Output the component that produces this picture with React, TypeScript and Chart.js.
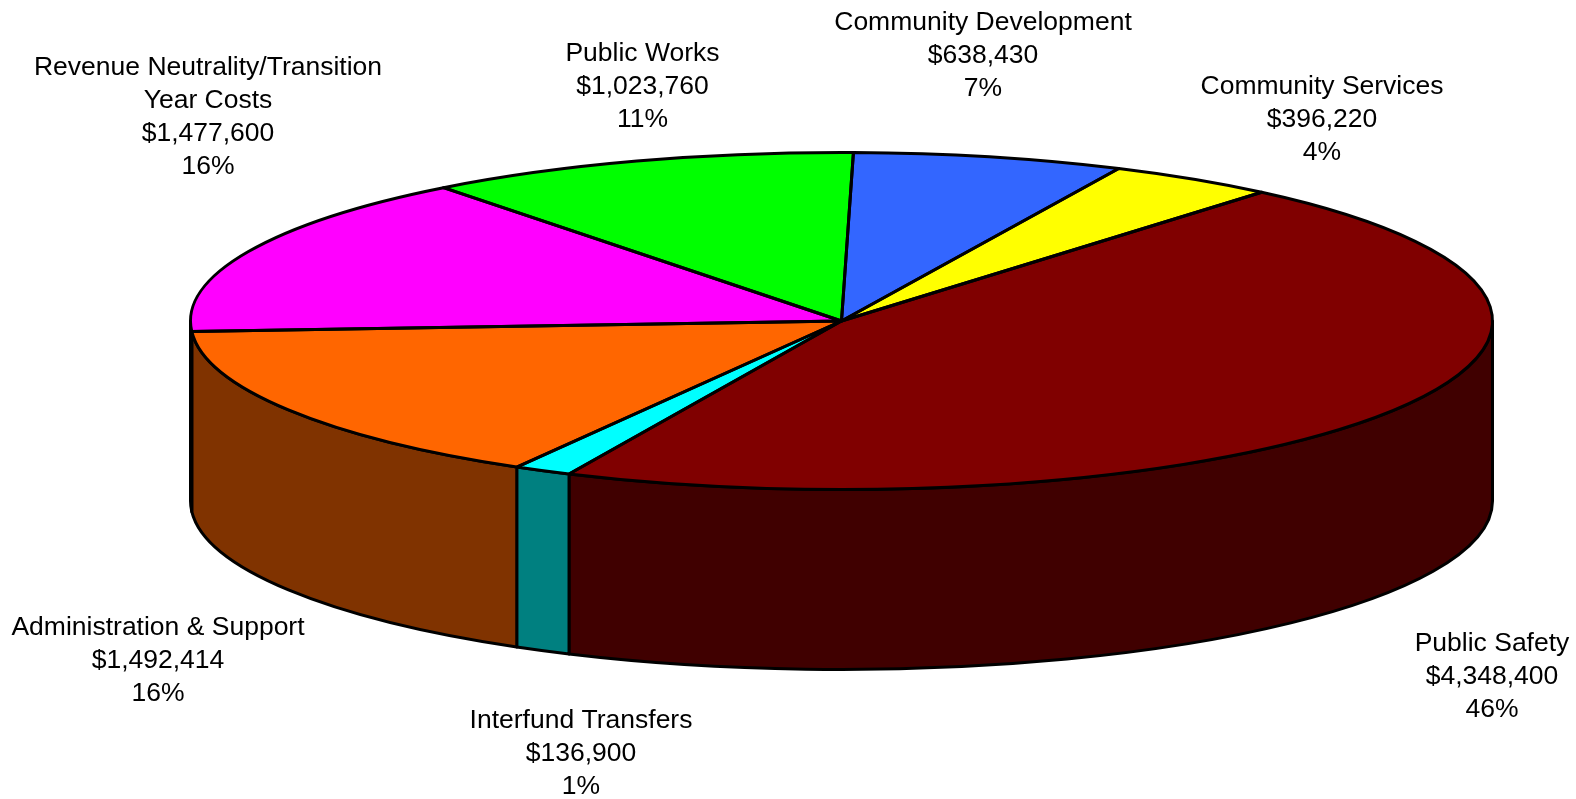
import React, { useEffect, useRef } from "react";
import { Chart, registerables } from "chart.js";

Chart.register(...registerables);

const categories = [
  "Public Safety",
  "Interfund Transfers",
  "Administration & Support",
  "Revenue Neutrality/Transition Year Costs",
  "Public Works",
  "Community Development",
  "Community Services",
];
const values = [4348400, 136900, 1492414, 1477600, 1023760, 638430, 396220];
const amountLabels = ["$4,348,400", "$136,900", "$1,492,414", "$1,477,600", "$1,023,760", "$638,430", "$396,220"];
const percentLabels = ["46%", "1%", "16%", "16%", "11%", "7%", "4%"];
const nameLines = [
  ["Public Safety"],
  ["Interfund Transfers"],
  ["Administration & Support"],
  ["Revenue Neutrality/Transition", "Year Costs"],
  ["Public Works"],
  ["Community Development"],
  ["Community Services"],
];
const topColors = ["#800000", "#00FFFF", "#FF6600", "#FF00FF", "#00FF00", "#3366FF", "#FFFF00"];
const sideColors = ["#400000", "#008080", "#803300", "#800080", "#008000", "#1A3380", "#808000"];

// layout of the pseudo-3D pie and its labels
const W = 1576;
const H = 799;
const CX = 841.5;
const CY = 321;
const RX = 651;
const SQUASH = 168.5 / 651;
const DEPTH = 180;
const LINE_W = 3;
const FONT = '26.5px "Liberation Sans", Arial, sans-serif';
const LINE_H = 33;
const labelAnchors = [
  [1492, 651],
  [581, 728],
  [158, 634.5],
  [208, 74.5],
  [642.5, 61],
  [983, 29.5],
  [1322, 94],
];

const pie3d = {
  id: "pie3d",
  beforeDatasetDraw(chart: any) {
    const ctx = chart.ctx;
    const arcs = chart.getDatasetMeta(0).data;
    const ref = arcs[0];
    const x = ref.x;
    const y = ref.y;
    const rx = ref.outerRadius;
    const ry = rx * SQUASH;
    ctx.save();
    ctx.lineWidth = LINE_W;
    ctx.strokeStyle = "#000";
    ctx.lineJoin = "round";
    arcs.forEach((arc: any, i: number) => {
      for (const k of [-2, 0, 2]) {
        const a = Math.max(arc.startAngle + k * Math.PI, 0);
        const b = Math.min(arc.endAngle + k * Math.PI, Math.PI);
        if (b <= a) continue;
        ctx.beginPath();
        ctx.ellipse(x, y, rx, ry, 0, a, b);
        ctx.lineTo(x + rx * Math.cos(b), y + ry * Math.sin(b) + DEPTH);
        ctx.ellipse(x, y + DEPTH, rx, ry, 0, b, a, true);
        ctx.closePath();
        ctx.fillStyle = sideColors[i];
        ctx.fill();
        ctx.stroke();
      }
    });
    ctx.restore();
    ctx.save();
    ctx.translate(x, y);
    ctx.scale(1, SQUASH);
    ctx.translate(-x, -y);
  },
  afterDatasetDraw(chart: any) {
    const ctx = chart.ctx;
    ctx.restore();
    const arcs = chart.getDatasetMeta(0).data;
    ctx.save();
    ctx.lineWidth = LINE_W;
    ctx.strokeStyle = "#000";
    ctx.lineJoin = "round";
    arcs.forEach((arc: any) => {
      const rx = arc.outerRadius;
      const ry = rx * SQUASH;
      ctx.beginPath();
      ctx.moveTo(arc.x, arc.y);
      ctx.ellipse(arc.x, arc.y, rx, ry, 0, arc.startAngle, arc.endAngle);
      ctx.closePath();
      ctx.stroke();
    });
    ctx.restore();
  },
  afterDraw(chart: any) {
    const ctx = chart.ctx;
    ctx.save();
    ctx.font = FONT;
    ctx.fillStyle = "#000";
    ctx.textAlign = "center";
    ctx.textBaseline = "alphabetic";
    categories.forEach((_, i) => {
      const lines = [...nameLines[i], amountLabels[i], percentLabels[i]];
      const [ax, ay] = labelAnchors[i];
      lines.forEach((t, j) => ctx.fillText(t, ax, ay + j * LINE_H));
    });
    ctx.restore();
  },
};

export default function App() {
  const ref = useRef<HTMLCanvasElement | null>(null);
  useEffect(() => {
    document.body.style.margin = "0";
    document.body.style.background = "#fff";
    const chart = new Chart(ref.current as HTMLCanvasElement, {
      type: "pie",
      data: {
        labels: categories,
        datasets: [
          {
            data: values,
            backgroundColor: topColors,
            borderWidth: 0,
            clip: false,
          } as any,
        ],
      },
      options: {
        responsive: false,
        animation: false,
        events: [],
        rotation: 40.2,
        radius: RX,
        layout: { padding: { left: 2 * CX - W, bottom: H - 2 * CY } },
        plugins: { legend: { display: false }, tooltip: { enabled: false }, title: { display: false } },
      } as any,
      plugins: [pie3d],
    });
    return () => chart.destroy();
  }, []);
  return <canvas ref={ref} width={W} height={H} style={{ display: "block" }} />;
}
